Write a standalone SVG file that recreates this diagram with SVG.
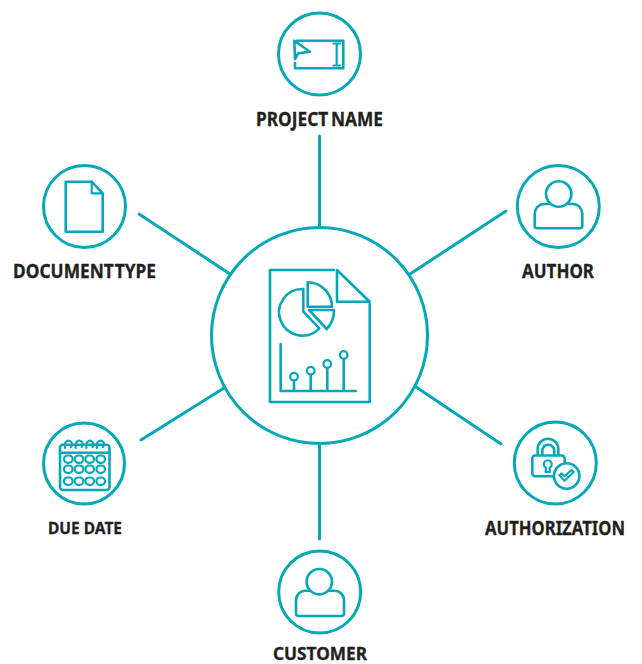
<svg xmlns="http://www.w3.org/2000/svg" width="642" height="664" viewBox="0 0 642 664">
<style>
.c{fill:none;stroke:#05a8b8;stroke-width:3}
.i{fill:none;stroke:#05a8b8;stroke-width:2.6;stroke-linejoin:round;stroke-linecap:round}
.s{fill:none;stroke:#05a8b8;stroke-width:2.2;stroke-linejoin:round;stroke-linecap:round}
.l{fill:none;stroke:#05a8b8;stroke-width:3;stroke-linecap:round}
.t{font-family:"Noto Sans","Liberation Sans",sans-serif;font-weight:700;font-size:19px;fill:#231f20;stroke:#231f20;stroke-width:.3}
</style>
<rect width="642" height="664" fill="#fff"/>
<g id="connectors">
<path class="l" d="M319.5 136V227M319.5 444V539M506 211L410 274M139 214L230 274M141 440L224 388M501 444L416 387"/>
</g>
<g id="center">
<circle class="c" cx="319.5" cy="335.5" r="108"/>
<path class="i" d="M334 270H270V402H369.7V304"/>
<path class="i" d="M337 270L369.7 301.7H337Z"/>
<path class="i" d="M303.3 289V311.7L319.3 328.3A23.3 23.3 0 1 1 303.3 289Z"/>
<path class="i" d="M307.7 282.3V306.7H332A24.4 24.4 0 0 0 307.7 282.3Z"/>
<path class="i" d="M309 310H334A27 27 0 0 1 326.7 329Z"/>
<path class="i" d="M280.7 344V391H355.7M294 380.5V391M310.7 374.5V391M327.3 368V391M343.7 359V391"/>
<circle class="s" cx="294" cy="376.7" r="3.8"/>
<circle class="s" cx="310.7" cy="370.7" r="3.8"/>
<circle class="s" cx="327.3" cy="364" r="3.8"/>
<circle class="s" cx="343.7" cy="355" r="3.8"/>
</g>
<g id="project-name">
<circle class="c" cx="319.5" cy="54" r="41"/>
<path class="i" d="M297 40.7H343.3V68.3H295V63"/>
<path class="i" d="M294.3 40.7L310 51.7L298.3 53.3L295 59Z"/>
<path class="s" d="M336.7 44V65M333.5 43.5H340M333.5 65.5H340"/>
<text class="t" x="256" y="126" textLength="127" lengthAdjust="spacingAndGlyphs" word-spacing="-2">PROJECT NAME</text>
</g>
<g id="document-type">
<circle class="c" cx="84.5" cy="206.5" r="41"/>
<path class="i" d="M65.7 181.7H91.7L102.7 193.3V231.7H65.7Z"/>
<path class="s" d="M91.7 181.7V193.3H102.7"/>
<text class="t" x="13" y="277.5" textLength="143" lengthAdjust="spacingAndGlyphs" word-spacing="-4">DOCUMENT TYPE</text>
</g>
<g id="author">
<circle class="c" cx="558.3" cy="206.5" r="41"/>
<circle class="i" cx="558.7" cy="194" r="12.7"/>
<path class="i" d="M549 204H544A9.5 9.5 0 0 0 534.7 213.5V226A2.3 2.3 0 0 0 537 228.3H580A2.3 2.3 0 0 0 582.3 226V213.5A9.5 9.5 0 0 0 573 204H568.5"/>
<text class="t" x="522" y="277.5" textLength="72" lengthAdjust="spacingAndGlyphs">AUTHOR</text>
</g>
<g id="authorization">
<circle class="c" cx="555.3" cy="463" r="41"/>
<path class="i" d="M553 476.3H535.5A3 3 0 0 1 532.3 473.3V458.5A3 3 0 0 1 535.5 455.5H561.5A3 3 0 0 1 564.7 458.5V462.5"/>
<path class="i" d="M537.7 455V449A10.3 10.3 0 0 1 558.3 449V455"/>
<path class="i" d="M542.3 455V450.7A6 6 0 0 1 554.3 450.7V455"/>
<path class="s" d="M546 467.8A4 4 0 1 1 549.6 467.8L550 472H545.6Z"/>
<circle class="i" cx="566.7" cy="476" r="12.7"/>
<path class="s" d="M559.3 475.3L561.5 473.3L564.5 476.3L571.5 470L573.7 472L564.5 480.7Z"/>
<text class="t" transform="translate(485 534.5) scale(.85 1)" x="0" y="0" textLength="164.7" lengthAdjust="spacingAndGlyphs">AUTHORIZATION</text>
</g>
<g id="due-date">
<circle class="c" cx="84" cy="463.5" r="40.5"/>
<rect class="i" x="60" y="444.7" width="49.5" height="45.3" rx="3"/>
<path class="i" d="M60 452.8H109.5"/>
<path class="s" d="M65 448V444A3.6 3.6 0 1 1 71 447M75.7 448V444A3.6 3.6 0 1 1 81.7 447M86.4 448V444A3.6 3.6 0 1 1 92.4 447M97 448V444A3.6 3.6 0 1 1 103 447"/>
<g class="s">
<rect x="64" y="455.5" width="8.6" height="7.4" rx="3.6"/><rect x="74.7" y="455.5" width="8.6" height="7.4" rx="3.6"/><rect x="85.4" y="455.5" width="8.6" height="7.4" rx="3.6"/><rect x="96.4" y="455.5" width="8.6" height="7.4" rx="3.6"/>
<rect x="64" y="465.5" width="8.6" height="7.4" rx="3.6"/><rect x="74.7" y="465.5" width="8.6" height="7.4" rx="3.6"/><rect x="85.4" y="465.5" width="8.6" height="7.4" rx="3.6"/><rect x="96.4" y="465.5" width="8.6" height="7.4" rx="3.6"/>
<rect x="64" y="477.5" width="8.6" height="7.4" rx="3.6"/><rect x="74.7" y="477.5" width="8.6" height="7.4" rx="3.6"/><rect x="85.4" y="477.5" width="8.6" height="7.4" rx="3.6"/><rect x="96.4" y="477.5" width="8.6" height="7.4" rx="3.6"/>
</g>
<text class="t" x="48" y="533.5" textLength="74" lengthAdjust="spacingAndGlyphs" style="font-size:16.5px">DUE DATE</text>
</g>
<g id="customer">
<circle class="c" cx="319.7" cy="592" r="41"/>
<circle class="i" cx="319.3" cy="581.7" r="12.7"/>
<path class="i" d="M310 590.7H305.5A9.5 9.5 0 0 0 296 600.2V613.7A2.3 2.3 0 0 0 298.3 616H341.7A2.3 2.3 0 0 0 344 613.7V600.2A9.5 9.5 0 0 0 334.5 590.7H329"/>
<text class="t" x="273" y="660" textLength="94" lengthAdjust="spacingAndGlyphs" style="font-size:17px">CUSTOMER</text>
</g>
</svg>
